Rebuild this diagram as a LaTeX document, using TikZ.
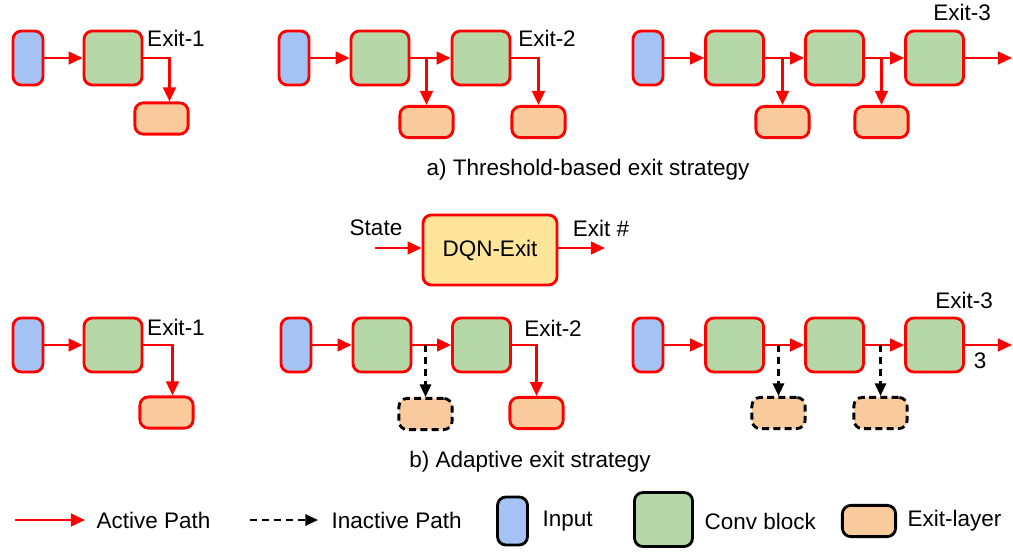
\documentclass[tikz,border=0pt]{standalone}
\usepackage{fontspec}
\setmainfont{Liberation Sans}
\usepackage{xcolor}
\usepackage{tikz}
\usetikzlibrary{positioning,calc,arrows.meta}

\definecolor{inblue}{HTML}{A4C2F4}
\definecolor{convgreen}{HTML}{B6D7A8}
\definecolor{exitorange}{HTML}{F9CB9C}
\definecolor{dqnyellow}{HTML}{FFE599}
\definecolor{actred}{HTML}{FF0000}

\tikzset{
  blk/.style={draw=actred, line width=2pt, rounded corners=6pt, inner sep=0pt},
  inbox/.style={blk, fill=inblue, minimum width=0.75cm, minimum height=1.35cm},
  convbox/.style={blk, fill=convgreen, minimum width=1.45cm, minimum height=1.35cm},
  exitbox/.style={blk, fill=exitorange, minimum width=1.33cm, minimum height=0.78cm},
  offbox/.style={exitbox, draw=black, dash pattern=on 5pt off 3pt},
  act/.style={draw=actred, line width=1.8pt, -{Triangle[length=10pt,width=9pt]}},
  inact/.style={draw=black, line width=1.6pt, dash pattern=on 5pt off 3.5pt,
    -{Triangle[length=9pt,width=8pt]}},
  lbl/.style={font=\fontsize{16}{19}\selectfont, inner sep=1pt}
}

\begin{document}
\begin{tikzpicture}[x=0.025cm, y=-0.025cm]
  \useasboundingbox (0,0) rectangle (1013,552);

  % (a) threshold-based, exit 1
  \node[inbox] (in1) at (28,58) {};
  \node[convbox] (c1) at (113,58) {};
  \node[exitbox] (e1) at (161.5,118.5) {};
  \draw[act] (in1) -- (c1);
  \draw[act] (c1.east) -| ([xshift=0.2cm]e1.north);
  \node[lbl] at (176,38) {Exit-1};

  % (a) threshold-based, exit 2
  \node[inbox] (in2) at (294,58) {};
  \node[convbox] (c2a) at (380,58) {};
  \node[convbox] (c2b) at (481,58) {};
  \node[exitbox] (e2a) at (426.5,122) {};
  \node[exitbox] (e2b) at (538.5,122) {};
  \draw[act] (in2) -- (c2a);
  \draw[act] (c2a) -- (c2b);
  \draw[act] (e2a.north |- c2a.east) -- (e2a.north);
  \draw[act] (c2b.east) -| (e2b.north);
  \node[lbl] at (547,38) {Exit-2};

  % (a) threshold-based, exit 3
  \node[inbox] (in3) at (648,58) {};
  \node[convbox] (c3a) at (734.5,58) {};
  \node[convbox] (c3b) at (834.5,58) {};
  \node[convbox] (c3c) at (934.5,58) {};
  \node[exitbox] (e3a) at (782.5,122) {};
  \node[exitbox] (e3b) at (881.5,122) {};
  \coordinate (o3) at (1012,58);
  \draw[act] (in3) -- (c3a);
  \draw[act] (c3a) -- (c3b);
  \draw[act] (c3b) -- (c3c);
  \draw[act] (c3c) -- (o3);
  \draw[act] (e3a.north |- c3a.east) -- (e3a.north);
  \draw[act] (e3b.north |- c3b.east) -- (e3b.north);
  \node[lbl] at (962,12) {Exit-3};

  \node[lbl] (capa) at (588,170) {a) Threshold-based exit strategy};

  % DQN agent
  \node[blk, fill=dqnyellow, minimum width=3.35cm, minimum height=1.75cm,
        lbl] (dqn) at (490,250) {DQN-Exit};
  \coordinate (st) at (375,248);
  \coordinate (ex) at (605,248);
  \draw[act] (st) -- (dqn.west |- st);
  \draw[act] (dqn.east |- ex) -- (ex);
  \node[lbl] at (376,228) {State};
  \node[lbl] at (601,228) {Exit \#};

  % (b) adaptive, exit 1
  \node[inbox] (in4) at (28,345) {};
  \node[convbox] (c4) at (113,345) {};
  \node[exitbox] (e4) at (166.5,412.5) {};
  \draw[act] (in4) -- (c4);
  \draw[act] (c4.east) -| ([xshift=0.15cm]e4.north);
  \node[lbl] at (176,327) {Exit-1};

  % (b) adaptive, exit 2
  \node[inbox] (in5) at (296,345) {};
  \node[convbox] (c5a) at (382,345) {};
  \node[convbox] (c5b) at (481.5,345) {};
  \node[offbox] (e5a) at (425.5,414) {};
  \node[exitbox] (e5b) at (536.5,413) {};
  \draw[act] (in5) -- (c5a);
  \draw[act] (c5a) -- (c5b);
  \draw[inact] (e5a.north |- c5a.east) -- (e5a.north);
  \draw[act] (c5b.east) -| (e5b.north);
  \node[lbl] at (553,328) {Exit-2};

  % (b) adaptive, exit 3
  \node[inbox] (in6) at (648,345) {};
  \node[convbox] (c6a) at (734.5,345) {};
  \node[convbox] (c6b) at (834.5,345) {};
  \node[convbox] (c6c) at (934.5,345) {};
  \node[offbox] (e6a) at (778.5,413) {};
  \node[offbox] (e6b) at (880.5,413) {};
  \coordinate (o6) at (1012,345);
  \draw[act] (in6) -- (c6a);
  \draw[act] (c6a) -- (c6b);
  \draw[act] (c6b) -- (c6c);
  \draw[act] (c6c) -- (o6);
  \draw[inact] (e6a.north |- c6a.east) -- (e6a.north);
  \draw[inact] (e6b.north |- c6b.east) -- (e6b.north);
  \node[lbl] at (980,361) {3};
  \node[lbl] at (964,300) {Exit-3};

  \node[lbl] (capb) at (530,462) {b) Adaptive exit strategy};

  % legend
  \coordinate (la0) at (15,520);
  \coordinate (la1) at (85,520);
  \draw[act] (la0) -- (la1);
  \node[lbl, anchor=west] (lat) at (95,520) {Active Path};
  \coordinate (li0) at (250,520);
  \coordinate (li1) at (318,520);
  \draw[inact] (li0) -- (li1);
  \node[lbl, anchor=west] (lit) at (330,520) {Inactive Path};
  \node[inbox, draw=black, minimum height=1.2cm] (lin) at (512.5,521) {};
  \node[lbl, anchor=west] (lint) at (541,521) {Input};
  \node[convbox, draw=black] (lcv) at (663.5,519.5) {};
  \node[lbl, anchor=west] (lcvt) at (703,521) {Conv block};
  \node[exitbox, draw=black] (lex) at (869,521) {};
  \node[lbl, anchor=west] (lext) at (906,521) {Exit-layer};
\end{tikzpicture}
\end{document}
